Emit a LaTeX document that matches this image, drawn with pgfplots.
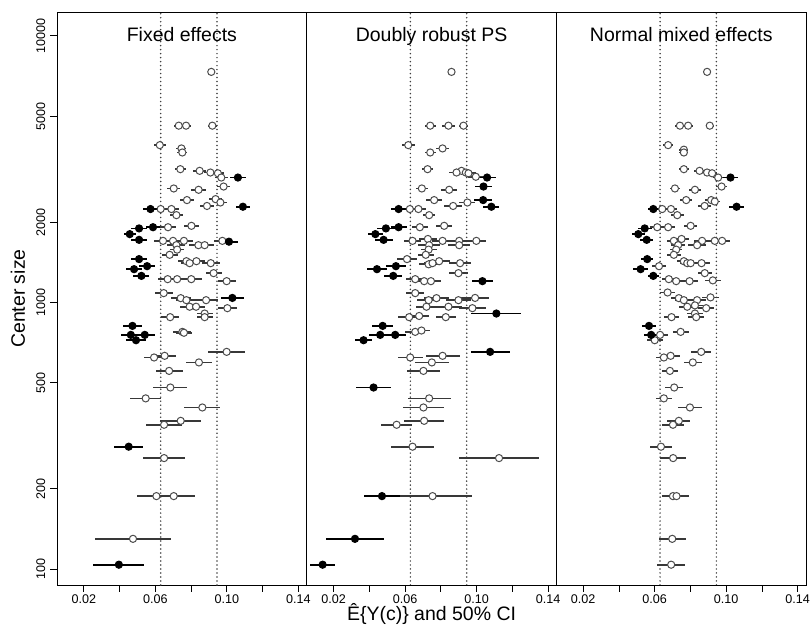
\documentclass[border=0pt]{standalone}
\usepackage{fontspec}
\setmainfont{Liberation Sans}
\usepackage{pgfplots}
\usepackage{pgfplotstable}
\pgfplotsset{compat=1.18}

% estimate, center size, half width of the 50% CI
\pgfplotstableread[row sep=\\]{
x y e\\
0.0913 7320 0.0020\\ 0.0731 4600 0.0028\\ 0.0772 4600 0.0028\\ 0.0919 4600 0.0025\\
0.0625 3890 0.0032\\ 0.0746 3780 0.0028\\ 0.0751 3650 0.0028\\ 0.0740 3160 0.0030\\
0.0848 3115 0.0035\\ 0.0908 3070 0.0035\\ 0.0950 3050 0.0035\\ 0.0969 2940 0.0035\\
0.0982 2720 0.0035\\ 0.0703 2675 0.0035\\ 0.0842 2645 0.0040\\ 0.0777 2420 0.0040\\
0.0937 2440 0.0038\\ 0.0964 2370 0.0035\\ 0.0889 2300 0.0040\\ 0.0630 2240 0.0040\\
0.0690 2240 0.0040\\ 0.0718 2125 0.0035\\ 0.0671 1915 0.0045\\ 0.0802 1938 0.0040\\
0.0643 1702 0.0050\\ 0.0699 1702 0.0050\\ 0.0760 1702 0.0050\\ 0.0975 1702 0.0045\\
0.0718 1640 0.0050\\ 0.0841 1640 0.0055\\ 0.0876 1640 0.0050\\ 0.0722 1578 0.0040\\
0.0680 1509 0.0045\\ 0.0774 1428 0.0045\\ 0.0830 1428 0.0050\\ 0.0792 1404 0.0050\\
0.0910 1404 0.0050\\ 0.0926 1288 0.0045\\ 0.0669 1223 0.0055\\ 0.0722 1223 0.0050\\
0.0801 1223 0.0060\\ 0.0999 1202 0.0050\\ 0.0647 1084 0.0050\\ 0.0742 1038 0.0055\\
0.0774 1020 0.0060\\ 0.0884 1020 0.0065\\ 0.0792 964 0.0055\\ 0.0828 964 0.0050\\
0.1003 952 0.0055\\ 0.0876 909 0.0045\\ 0.0683 881 0.0050\\ 0.0876 881 0.0045\\
0.0751 776 0.0050\\ 0.0760 770 0.0045\\ 0.0999 653 0.0103\\ 0.0652 631 0.0065\\
0.0593 622 0.0055\\ 0.0844 596 0.0075\\ 0.0677 554 0.0075\\ 0.0684 480 0.0095\\
0.0546 437 0.0085\\ 0.0863 404 0.0100\\ 0.0742 360 0.0115\\ 0.0649 348 0.0100\\
0.0649 261 0.0118\\ 0.0606 188 0.0110\\ 0.0703 188 0.0120\\ 0.0475 130 0.0210\\
}\feOpen
\pgfplotstableread[row sep=\\]{
x y e\\
0.1062 2940 0.0047\\ 0.1090 2285 0.0040\\ 0.0573 2240 0.0040\\ 0.0509 1895 0.0045\\
0.0587 1915 0.0040\\ 0.0457 1804 0.0035\\ 0.0509 1717 0.0045\\ 0.1012 1690 0.0050\\
0.0509 1454 0.0045\\ 0.0554 1368 0.0045\\ 0.0481 1333 0.0045\\ 0.0522 1258 0.0045\\
0.1031 1040 0.0065\\ 0.0472 817 0.0055\\ 0.0463 756 0.0055\\ 0.0541 756 0.0055\\
0.0492 722 0.0055\\ 0.0451 288 0.0080\\ 0.0396 104 0.0142\\
}\feFill
\pgfplotstableread[row sep=\\]{
x y e\\
0.0860 7320 0.0022\\ 0.0741 4600 0.0030\\ 0.0843 4600 0.0035\\ 0.0927 4600 0.0025\\
0.0618 3890 0.0035\\ 0.0810 3780 0.0035\\ 0.0741 3650 0.0030\\ 0.0726 3160 0.0030\\
0.0916 3115 0.0040\\ 0.0888 3070 0.0040\\ 0.0940 3070 0.0035\\ 0.0955 3050 0.0040\\
0.0996 2960 0.0045\\ 0.0694 2675 0.0035\\ 0.0847 2645 0.0045\\ 0.0763 2420 0.0045\\
0.0949 2370 0.0045\\ 0.0869 2300 0.0050\\ 0.0627 2240 0.0045\\ 0.0675 2240 0.0045\\
0.0735 2125 0.0035\\ 0.0683 1915 0.0045\\ 0.0819 1938 0.0045\\ 0.0642 1702 0.0050\\
0.0728 1730 0.0050\\ 0.0810 1702 0.0060\\ 0.0903 1702 0.0055\\ 0.0999 1702 0.0055\\
0.0735 1640 0.0060\\ 0.0903 1640 0.0060\\ 0.0732 1578 0.0045\\ 0.0716 1509 0.0045\\
0.0611 1454 0.0055\\ 0.0732 1390 0.0055\\ 0.0754 1404 0.0050\\ 0.0791 1428 0.0060\\
0.0908 1404 0.0060\\ 0.0899 1288 0.0055\\ 0.0657 1223 0.0050\\ 0.0707 1202 0.0055\\
0.0745 1202 0.0055\\ 0.0657 1084 0.0050\\ 0.0732 1020 0.0065\\ 0.0776 1038 0.0070\\
0.0899 1020 0.0070\\ 0.0992 1040 0.0080\\ 0.0720 964 0.0060\\ 0.0843 964 0.0075\\
0.0977 952 0.0075\\ 0.0623 881 0.0060\\ 0.0679 890 0.0055\\ 0.0828 881 0.0055\\
0.0657 776 0.0055\\ 0.0692 785 0.0050\\ 0.0810 631 0.0095\\ 0.0629 622 0.0070\\
0.0750 596 0.0095\\ 0.0703 554 0.0090\\ 0.0735 437 0.0121\\ 0.0703 404 0.0113\\
0.0707 360 0.0110\\ 0.0553 348 0.0087\\ 0.0642 288 0.0121\\ 0.1126 261 0.0223\\
0.0754 188 0.0220\\
}\drOpen
\pgfplotstableread[row sep=\\]{
x y e\\
0.1059 2940 0.0050\\ 0.1039 2720 0.0050\\ 0.1037 2420 0.0050\\ 0.1083 2285 0.0045\\
0.0564 2240 0.0045\\ 0.0493 1895 0.0050\\ 0.0564 1915 0.0045\\ 0.0434 1804 0.0040\\
0.0480 1717 0.0050\\ 0.0549 1368 0.0055\\ 0.0443 1333 0.0055\\ 0.0534 1258 0.0050\\
0.1033 1202 0.0060\\ 0.1111 909 0.0140\\ 0.0475 817 0.0060\\ 0.0461 756 0.0060\\
0.0545 756 0.0060\\ 0.0368 722 0.0050\\ 0.1076 653 0.0109\\ 0.0424 480 0.0099\\
0.0471 188 0.0100\\ 0.0320 130 0.0162\\ 0.0139 104 0.0070\\
}\drFill
\pgfplotstableread[row sep=\\]{
x y e\\
0.0893 7320 0.0018\\ 0.0741 4600 0.0025\\ 0.0787 4600 0.0025\\ 0.0908 4600 0.0022\\
0.0675 3890 0.0030\\ 0.0763 3740 0.0025\\ 0.0763 3650 0.0025\\ 0.0763 3160 0.0028\\
0.0851 3115 0.0030\\ 0.0893 3070 0.0030\\ 0.0921 3050 0.0030\\ 0.0955 2940 0.0030\\
0.0974 2720 0.0030\\ 0.0713 2675 0.0030\\ 0.0825 2645 0.0035\\ 0.0776 2420 0.0035\\
0.0916 2420 0.0035\\ 0.0936 2390 0.0030\\ 0.0879 2300 0.0035\\ 0.0642 2240 0.0035\\
0.0691 2240 0.0035\\ 0.0726 2125 0.0035\\ 0.0614 1915 0.0040\\ 0.0675 1915 0.0040\\
0.0801 1938 0.0035\\ 0.0707 1702 0.0040\\ 0.0750 1730 0.0040\\ 0.0865 1702 0.0045\\
0.0936 1702 0.0040\\ 0.0977 1702 0.0045\\ 0.0731 1640 0.0040\\ 0.0837 1640 0.0050\\
0.0720 1578 0.0035\\ 0.0707 1509 0.0040\\ 0.0763 1428 0.0040\\ 0.0782 1404 0.0040\\
0.0801 1404 0.0040\\ 0.0862 1404 0.0045\\ 0.0624 1368 0.0040\\ 0.0880 1288 0.0040\\
0.0679 1223 0.0040\\ 0.0720 1202 0.0045\\ 0.0795 1202 0.0045\\ 0.0925 1210 0.0045\\
0.0672 1090 0.0040\\ 0.0735 1038 0.0045\\ 0.0763 1020 0.0050\\ 0.0837 1020 0.0050\\
0.0912 1045 0.0050\\ 0.0782 964 0.0045\\ 0.0825 975 0.0045\\ 0.0888 952 0.0045\\
0.0825 909 0.0045\\ 0.0694 881 0.0040\\ 0.0832 881 0.0045\\ 0.0745 776 0.0045\\
0.0630 756 0.0045\\ 0.0600 722 0.0045\\ 0.0860 653 0.0055\\ 0.0689 631 0.0050\\
0.0651 622 0.0045\\ 0.0813 596 0.0050\\ 0.0685 554 0.0045\\ 0.0709 480 0.0050\\
0.0651 437 0.0045\\ 0.0797 404 0.0069\\ 0.0735 360 0.0065\\ 0.0702 348 0.0060\\
0.0635 288 0.0062\\ 0.0703 261 0.0073\\ 0.0702 188 0.0060\\ 0.0722 188 0.0070\\
0.0698 130 0.0076\\ 0.0692 104 0.0079\\
}\nmOpen
\pgfplotstableread[row sep=\\]{
x y e\\
0.1024 2940 0.0040\\ 0.1058 2285 0.0040\\ 0.0592 2240 0.0030\\ 0.0544 1895 0.0040\\
0.0508 1804 0.0035\\ 0.0555 1717 0.0035\\ 0.0558 1454 0.0035\\ 0.0521 1333 0.0040\\
0.0592 1258 0.0030\\ 0.0568 817 0.0040\\ 0.0580 756 0.0040\\
}\nmFill

\pgfplotsset{
  mypanel/.style={
    anchor=south west, scale only axis,
    width=250bp, height=573bp,
    xmin=0.005, xmax=0.1447,
    ymin=87.3, ymax=12200,
    xtick={0.02,0.04,0.06,0.08,0.10,0.12,0.14},
    xticklabels={0.02,,0.06,,0.10,,0.14},
    xtick pos=lower, ytick pos=left,
    tick align=outside, major tick length=6.7bp,
    yminorticks=false, xminorticks=false,
    axis line style={line width=0.9bp},
    every tick/.style={black, line width=0.9bp},
    tick label style={font=\fontsize{12.6bp}{15bp}\selectfont},
  },
  myref/.style={line width=1.7bp, black!75, line cap=round, dash pattern=on 0pt off 4bp},
  myopen/.style={only marks, mark=*, mark size=3.6bp,
    mark options={fill=white, draw=black!70, line width=1bp, solid},
    error bars/x dir=both, error bars/x explicit, error bars/error mark=none,
    error bars/error bar style={line width=1.7bp, black!78}},
  myfill/.style={only marks, mark=*, mark size=3.6bp,
    mark options={fill=black, draw=black, line width=1bp, solid},
    error bars/x dir=both, error bars/x explicit, error bars/error mark=none,
    error bars/error bar style={line width=1.7bp, black}},
}
\newcommand{\paneltitle}[1]{\node[anchor=base, font=\fontsize{19.5bp}{23bp}\selectfont]
  at (rel axis cs:0.5,1) [yshift=-29bp] {#1};}
\newcommand{\ylab}[1]{\node[xshift=-12bp, rotate=90, anchor=base,
  font=\fontsize{12.6bp}{15bp}\selectfont] at (axis cs:0.005,#1) {#1};}

\begin{document}
\begin{tikzpicture}
\useasboundingbox (0,0) rectangle (811bp,635bp);

\begin{axis}[ymode=log, mypanel, at={(57.1bp,49.3bp)},
  ytick={100,200,500,1000,2000,5000,10000},
  yticklabels={,,,,,,}, clip=false]
\addplot[myref] coordinates {(0.063,87.3) (0.063,12200)};
\addplot[myref] coordinates {(0.0945,87.3) (0.0945,12200)};
\addplot[myopen] table[x=x, y=y, x error=e] {\feOpen};
\addplot[myfill] table[x=x, y=y, x error=e] {\feFill};
\paneltitle{Fixed effects}
\ylab{100}\ylab{200}\ylab{500}\ylab{1000}\ylab{2000}\ylab{5000}\ylab{10000}
\end{axis}

\begin{axis}[ymode=log, mypanel, at={(307.1bp,49.3bp)}, ytick=\empty]
\addplot[myref] coordinates {(0.063,87.3) (0.063,12200)};
\addplot[myref] coordinates {(0.0945,87.3) (0.0945,12200)};
\addplot[myopen] table[x=x, y=y, x error=e] {\drOpen};
\addplot[myfill] table[x=x, y=y, x error=e] {\drFill};
\paneltitle{Doubly robust PS}
\end{axis}

\begin{axis}[ymode=log, mypanel, at={(557.1bp,49.3bp)}, ytick=\empty]
\addplot[myref] coordinates {(0.063,87.3) (0.063,12200)};
\addplot[myref] coordinates {(0.0945,87.3) (0.0945,12200)};
\addplot[myopen] table[x=x, y=y, x error=e] {\nmOpen};
\addplot[myfill] table[x=x, y=y, x error=e] {\nmFill};
\paneltitle{Normal mixed effects}
\end{axis}

\node[rotate=90, anchor=base, font=\fontsize{19.5bp}{23bp}\selectfont]
  at (25bp,336bp) {Center size};
\node[anchor=base, font=\fontsize{19.5bp}{23bp}\selectfont]
  at (432.1bp,13.3bp) {Ê\{Y(c)\} and 50\% CI};
\end{tikzpicture}
\end{document}
